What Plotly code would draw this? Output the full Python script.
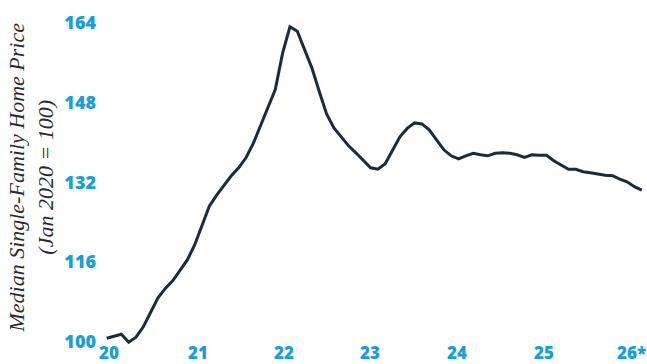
import plotly.graph_objects as go

# Monthly index (Jan 2020 = 100), Jan 2020 .. Feb 2026
months = [f"{2020 + i // 12}-{i % 12 + 1:02d}" for i in range(74)]
values = [
    100.7, 101.1, 101.5, 99.9, 100.9, 103.0, 106.0, 108.8, 110.7, 112.2,
    114.3, 116.4, 119.4, 123.2, 127.2, 129.4, 131.4, 133.3, 134.9, 136.9,
    139.8, 143.5, 147.2, 150.6, 157.9, 163.2, 162.3, 158.7, 154.9, 150.2,
    145.7, 142.9, 141.0, 139.3, 137.9, 136.3, 134.9, 134.6, 135.7, 138.4,
    141.1, 142.8, 143.9, 143.7, 142.5, 140.5, 138.5, 137.3, 136.7, 137.3,
    137.8, 137.5, 137.3, 137.8, 137.9, 137.8, 137.5, 137.0, 137.5, 137.4,
    137.4, 136.3, 135.5, 134.6, 134.6, 134.1, 133.9, 133.6, 133.4, 133.3,
    132.6, 132.1, 131.1, 130.4,
]
x_tick_labels = ["20", "21", "22", "23", "24", "25", "26*"]
x_tick_pos = [0.38, 12.39, 24.19, 35.93, 47.80, 59.67, 71.53]
y_ticks = [100, 116, 132, 148, 164]

x = list(range(len(values)))

fig = go.Figure()
fig.add_trace(go.Scatter(
    x=x, y=values, mode="lines",
    line=dict(color="#1c2b3c", width=3),
    customdata=months,
    hovertemplate="%{customdata}: %{y}<extra></extra>",
))

blue = "#1a9edb"
annotations = [dict(
    text="Median Single-Family Home Price<br>(Jan 2020 = 100)",
    xref="paper", yref="paper", x=-0.137, y=0.491,
    xanchor="center", yanchor="middle", textangle=-90, showarrow=False,
    font=dict(family="Liberation Serif", size=22, color="#2a2a2a", style="italic"),
)]
for pos, lab in zip(x_tick_pos, x_tick_labels):
    annotations.append(dict(
        text=lab, xref="x", yref="paper", x=pos, y=0,
        xanchor="center", yanchor="top", yshift=4, showarrow=False,
        borderpad=0,
        font=dict(family="Open Sans", size=17, color=blue, weight=800),
    ))

fig.update_layout(
    width=647, height=364,
    margin=dict(l=105, r=2, t=5, b=20),
    paper_bgcolor="white", plot_bgcolor="white",
    showlegend=False,
    xaxis=dict(
        range=[-0.23, 73.44], automargin=False,
        showticklabels=False,
        showgrid=False, zeroline=False, showline=False, ticks="",
    ),
    yaxis=dict(
        range=[99.54, 167.56], automargin=False,
        tickmode="array", tickvals=y_ticks, ticktext=[str(v) for v in y_ticks],
        showgrid=False, zeroline=False, showline=False, ticks="",
        tickfont=dict(family="Open Sans", size=18, color=blue, weight=800),
        ticklabelstandoff=8,
    ),
    annotations=annotations,
)

fig.write_html("out.html")
